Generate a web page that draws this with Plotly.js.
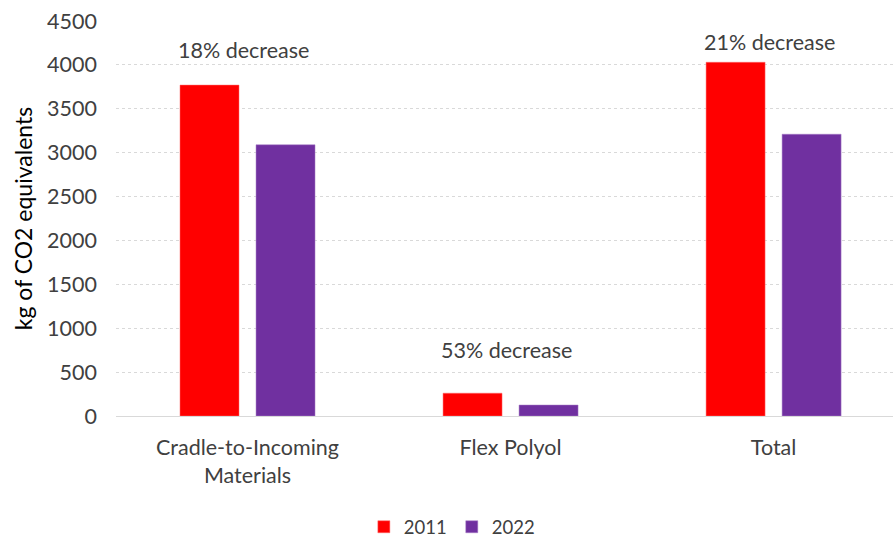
<!DOCTYPE html>
<html>
<head>
<meta charset="utf-8">
<script src="https://cdn.plot.ly/plotly-3.0.1.min.js"></script>
<style>html,body{margin:0;padding:0;background:#fff;}#chart{width:893px;height:538px;}</style>
</head>
<body>
<div id="chart"></div>
<script>
const categories = ["Cradle-to-Incoming<br>Materials", "Flex Polyol", "Total"];
const values2011 = [3770, 260, 4030];
const values2022 = [3090, 125, 3210];
const seriesNames = ["2011", "2022"];
const noteTexts = ["18% decrease", "53% decrease", "21% decrease"];
const noteY = [4170, 750, 4260];
const yTicks = [0, 500, 1000, 1500, 2000, 2500, 3000, 3500, 4000, 4500];

const fontFam = "Lato, 'Open Sans', sans-serif";
const textColor = "#404040";
const fs = 21.5;
const catIdx = categories.map((c, i) => i);

const traces = [
  {type: "bar", x: catIdx, y: values2011, name: seriesNames[0],
   marker: {color: "#FF0000", line: {color: "#ff6b6b", width: 0.5}}},
  {type: "bar", x: catIdx, y: values2022, name: seriesNames[1],
   marker: {color: "#7030A0", line: {color: "#a77cc7", width: 0.5}}}
];

const annotations = noteTexts.map((t, i) => ({
  x: catIdx[i], y: noteY[i], xref: "x", yref: "y", text: t,
  showarrow: false, xshift: -4, font: {family: fontFam, size: fs, color: textColor}
}));

const layout = {
  width: 893, height: 538,
  margin: {l: 116, r: 0, t: 21, b: 122},
  paper_bgcolor: "#fff", plot_bgcolor: "#fff",
  font: {family: fontFam, size: fs, color: textColor},
  barmode: "group", bargap: 0.422, bargroupgap: 0.224,
  showlegend: true,
  legend: {orientation: "h", xref: "container", yref: "container",
           x: 0.506, xanchor: "center", y: 0.02, yanchor: "middle",
           font: {family: fontFam, size: 18.5, color: textColor},
           itemwidth: 30, traceorder: "normal"},
  xaxis: {range: [-0.5, 2.454], tickmode: "array", tickvals: catIdx, ticktext: categories,
          showgrid: false, zeroline: false, showline: true, linecolor: "#d9d9d9", linewidth: 1,
          ticks: "", ticklabelstandoff: 12, fixedrange: true},
  yaxis: {range: [0, 4500], tickmode: "array", tickvals: yTicks,
          showgrid: true, gridcolor: "#d9d9d9", gridwidth: 1, griddash: "dot",
          zeroline: false, showline: false, ticks: "", ticklabelstandoff: 18,
          title: {text: "kg of CO2 equivalents", standoff: 8, font: {family: fontFam, size: 23, color: "#000"}},
          fixedrange: true},
  annotations: annotations
};

Plotly.newPlot("chart", traces, layout, {displayModeBar: false, staticPlot: true});
</script>
</body>
</html>
